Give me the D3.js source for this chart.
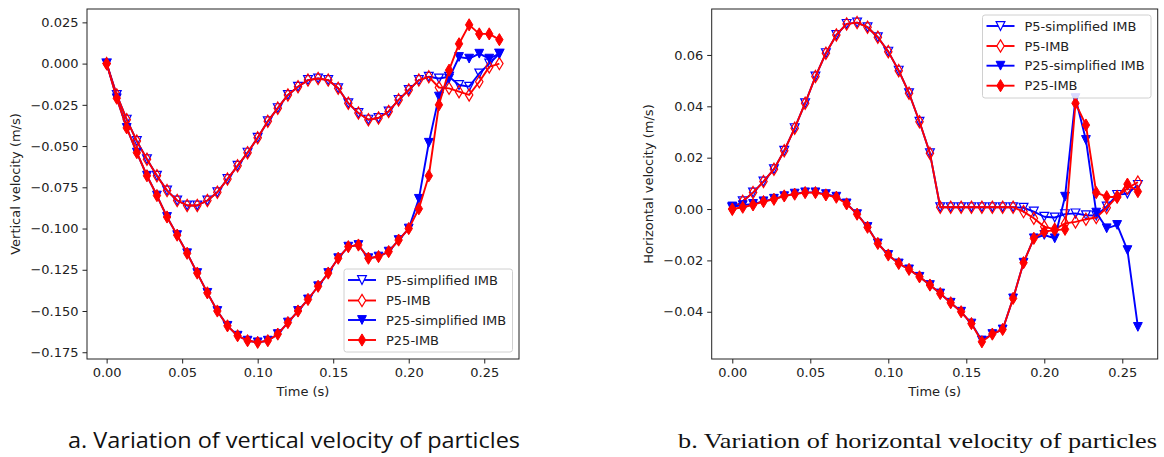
<!DOCTYPE html>
<html>
<head>
<meta charset="utf-8">
<script src="https://cdn.jsdelivr.net/npm/d3@7"></script>
<style>
  html, body { margin: 0; padding: 0; background: #fff; }
  svg { display: block; }
</style>
</head>
<body>
<svg id="chart" width="1164" height="457"></svg>
<script>
// ---------------- DATA ----------------
const times = [0.0000,0.0067,0.0133,0.0200,0.0267,0.0333,0.0400,0.0467,0.0533,0.0600,
               0.0667,0.0733,0.0800,0.0867,0.0933,0.1000,0.1067,0.1133,0.1200,0.1267,
               0.1333,0.1400,0.1467,0.1533,0.1600,0.1667,0.1733,0.1800,0.1867,0.1933,
               0.2000,0.2067,0.2133,0.2200,0.2267,0.2333,0.2400,0.2467,0.2533,0.2600];

const seriesNames = ["P5-simplified IMB", "P5-IMB", "P25-simplified IMB", "P25-IMB"];

// (a) vertical velocity (m/s)
const vertP5Simplified = [0.000,-0.019,-0.034,-0.047,-0.058,-0.068,-0.077,-0.083,-0.086,-0.086,
                          -0.083,-0.078,-0.070,-0.062,-0.054,-0.045,-0.035,-0.027,-0.019,-0.014,
                          -0.010,-0.009,-0.010,-0.015,-0.024,-0.030,-0.034,-0.033,-0.029,-0.022,
                          -0.016,-0.010,-0.008,-0.009,-0.008,-0.013,-0.014,-0.006,0.000,0.006];
const vertP5IMB        = [0.000,-0.019,-0.034,-0.047,-0.058,-0.068,-0.077,-0.083,-0.086,-0.086,
                          -0.083,-0.078,-0.070,-0.062,-0.054,-0.045,-0.035,-0.027,-0.019,-0.014,
                          -0.010,-0.009,-0.010,-0.015,-0.024,-0.030,-0.034,-0.033,-0.029,-0.022,
                          -0.016,-0.010,-0.008,-0.0145,-0.015,-0.017,-0.019,-0.011,-0.002,0.000];
const vertP25Simplified= [0.000,-0.021,-0.039,-0.054,-0.068,-0.080,-0.093,-0.104,-0.115,-0.127,
                          -0.139,-0.150,-0.159,-0.165,-0.168,-0.169,-0.168,-0.164,-0.157,-0.150,
                          -0.143,-0.135,-0.127,-0.118,-0.111,-0.110,-0.118,-0.117,-0.114,-0.107,
                          -0.100,-0.082,-0.048,-0.020,-0.009,0.004,0.003,0.006,0.003,0.006];
const vertP25IMB       = [0.000,-0.021,-0.039,-0.054,-0.068,-0.080,-0.093,-0.104,-0.115,-0.127,
                          -0.139,-0.150,-0.159,-0.165,-0.168,-0.169,-0.168,-0.164,-0.157,-0.150,
                          -0.143,-0.135,-0.127,-0.118,-0.111,-0.110,-0.118,-0.117,-0.114,-0.107,
                          -0.100,-0.088,-0.068,-0.025,-0.004,0.012,0.0235,0.018,0.018,0.0145];

// (b) horizontal velocity (m/s)
const horP5Simplified  = [0.0005,0.0030,0.0064,0.0107,0.0155,0.0227,0.0315,0.0412,0.0516,0.0607,
                          0.0678,0.0721,0.0726,0.0708,0.0669,0.0613,0.0539,0.0451,0.0340,0.0217,
                          0.0007,0.0007,0.0007,0.0007,0.0007,0.0007,0.0007,0.0007,0.0005,-0.0010,
                          -0.0030,-0.0033,-0.0020,-0.0017,-0.0024,-0.0025,0.0010,0.0055,0.0060,0.0094];
const horP5IMB         = [0.0000,0.0030,0.0064,0.0107,0.0155,0.0227,0.0315,0.0412,0.0516,0.0607,
                          0.0678,0.0721,0.0726,0.0708,0.0669,0.0613,0.0539,0.0451,0.0340,0.0217,
                          0.0007,0.0007,0.0007,0.0007,0.0007,0.0007,0.0007,0.0007,-0.0010,-0.0036,
                          -0.0069,-0.0079,-0.0056,-0.0050,-0.0040,-0.0033,0.0005,0.0048,0.0081,0.0105];
const horP25Simplified = [0.0010,0.0015,0.0020,0.0030,0.0040,0.0050,0.0060,0.0065,0.0065,0.0058,
                          0.0048,0.0022,-0.0020,-0.0070,-0.0134,-0.0179,-0.0212,-0.0235,-0.0264,-0.0296,
                          -0.0329,-0.0365,-0.0400,-0.0446,-0.0512,-0.0487,-0.0469,-0.0348,-0.0209,-0.0114,
                          -0.0101,-0.0114,0.0048,0.0432,0.0269,-0.0014,-0.0075,-0.0062,-0.0160,-0.0459];
const horP25IMB        = [0.0000,0.0007,0.0016,0.0029,0.0038,0.0051,0.0058,0.0064,0.0064,0.0055,
                          0.0046,0.0020,-0.0020,-0.0071,-0.0134,-0.0179,-0.0212,-0.0235,-0.0264,-0.0296,
                          -0.0329,-0.0365,-0.0400,-0.0446,-0.0517,-0.0487,-0.0469,-0.0348,-0.0209,-0.0114,
                          -0.0088,-0.0082,-0.0079,0.0412,0.0327,0.0064,0.0048,0.0046,0.0097,0.0068];

const xTicks = [0.00, 0.05, 0.10, 0.15, 0.20, 0.25];
const vertYTicks = [0.025, 0.000, -0.025, -0.050, -0.075, -0.100, -0.125, -0.150, -0.175];
const horYTicks = [0.06, 0.04, 0.02, 0.00, -0.02, -0.04];

const captions = ["a. Variation of vertical velocity of particles", "b. Variation of horizontal velocity of particles"];

// ---------------- STYLE ----------------
const FONT = "'DejaVu Sans', sans-serif";
const FS = 13;
const styles = [
  { color: "#0000ff", shape: "tri", filled: false },
  { color: "#ff0000", shape: "dia", filled: false },
  { color: "#0000ff", shape: "tri", filled: true },
  { color: "#ff0000", shape: "dia", filled: true }
];

function markerPath(shape) {
  if (shape === "tri") {
    const s = 4.4;
    return `M0,${s}L${-s},${-s}L${s},${-s}Z`;
  }
  const hw = 3.7, hh = 6.1;
  return `M0,${-hh}L${hw},0L0,${hh}L${-hw},0Z`;
}

const svg = d3.select("#chart");

function panel(cfg) {
  const g = svg.append("g");
  const x = d3.scaleLinear().domain(cfg.xDomain).range([cfg.left, cfg.right]);
  const y = d3.scaleLinear().domain(cfg.yDomain).range([cfg.bottom, cfg.top]);

  cfg.series.forEach((vals, si) => {
    const st = styles[si];
    const data = times.map((t, i) => ({ t, v: vals[i] }));
    const line = d3.line().x(d => x(d.t)).y(d => y(d.v));
    const sg = g.append("g");
    sg.append("path").datum(data)
      .attr("d", line).attr("fill", "none")
      .attr("stroke", st.color).attr("stroke-width", 1.9)
      .attr("stroke-linejoin", "round");
    sg.selectAll("path.m").data(data).join("path").attr("class", "m")
      .attr("d", markerPath(st.shape))
      .attr("transform", d => `translate(${x(d.t)},${y(d.v)})`)
      .attr("fill", st.filled ? st.color : "none")
      .attr("stroke", st.color).attr("stroke-width", st.filled ? 1 : 1.2);
  });

  g.append("rect").attr("x", cfg.left).attr("y", cfg.top)
    .attr("width", cfg.right - cfg.left).attr("height", cfg.bottom - cfg.top)
    .attr("fill", "none").attr("stroke", "#222").attr("stroke-width", 1);

  const xAxis = d3.axisBottom(x).tickValues(xTicks).tickFormat(d3.format(".2f"))
    .tickSize(4.5).tickPadding(4);
  const xa = g.append("g").attr("transform", `translate(0,${cfg.bottom})`).call(xAxis);
  xa.select(".domain").remove();
  xa.selectAll("line").attr("stroke", "#222");
  xa.selectAll("text").style("font-size", FS + "px").style("font-family", FONT).attr("fill", "#222");

  const yAxis = d3.axisLeft(y).tickValues(cfg.yTicks).tickFormat(d3.format(cfg.yFmt))
    .tickSize(4.5).tickPadding(4);
  const ya = g.append("g").attr("transform", `translate(${cfg.left},0)`).call(yAxis);
  ya.select(".domain").remove();
  ya.selectAll("line").attr("stroke", "#222");
  ya.selectAll("text").style("font-size", FS + "px").style("font-family", FONT).attr("fill", "#222");

  g.append("text").attr("x", (cfg.left + cfg.right) / 2).attr("y", 396)
    .attr("text-anchor", "middle").style("font-size", FS + "px").style("font-family", FONT)
    .attr("fill", "#222").text("Time (s)");
  g.append("text").attr("transform", `translate(${cfg.ylabX},${(cfg.top + cfg.bottom) / 2}) rotate(-90)`)
    .attr("text-anchor", "middle").style("font-size", FS + "px").style("font-family", FONT)
    .attr("fill", "#222").text(cfg.ylabel);

  const L = cfg.legend;
  const lg = g.append("g");
  lg.append("rect").attr("x", L.x).attr("y", L.y).attr("width", L.w).attr("height", L.h)
    .attr("rx", 2.5).attr("fill", "#fff").attr("fill-opacity", 0.85)
    .attr("stroke", "#d0d0d0").attr("stroke-width", 1);
  seriesNames.forEach((name, i) => {
    const st = styles[i];
    const cy = L.rows[i];
    lg.append("line").attr("x1", L.x + 4).attr("x2", L.x + 32).attr("y1", cy).attr("y2", cy)
      .attr("stroke", st.color).attr("stroke-width", 1.9);
    lg.append("path").attr("d", markerPath(st.shape))
      .attr("transform", `translate(${L.x + 18},${cy})`)
      .attr("fill", st.filled ? st.color : "#fff")
      .attr("stroke", st.color).attr("stroke-width", st.filled ? 1 : 1.2);
    lg.append("text").attr("x", L.x + 42).attr("y", cy + 4.7)
      .style("font-size", FS + "px").style("font-family", FONT).attr("fill", "#222").text(name);
  });
}

panel({
  left: 87, right: 519, top: 9, bottom: 359,
  xDomain: [-0.013, 0.273], yDomain: [-0.1791, 0.0331],
  yTicks: vertYTicks, yFmt: ".3f",
  ylabel: "Vertical velocity (m/s)", ylabX: 19.5,
  series: [vertP5Simplified, vertP5IMB, vertP25Simplified, vertP25IMB],
  legend: { x: 344, y: 269, w: 168.5, h: 83, rows: [280, 300.5, 320, 340] }
});

panel({
  left: 711.7, right: 1157.7, top: 9, bottom: 359,
  xDomain: [-0.0132, 0.2727], yDomain: [-0.0584, 0.0779],
  yTicks: horYTicks, yFmt: ".2f",
  ylabel: "Horizontal velocity (m/s)", ylabX: 653,
  series: [horP5Simplified, horP5IMB, horP25Simplified, horP25IMB],
  legend: { x: 982.5, y: 15, w: 168.5, h: 83, rows: [26, 46, 65.7, 85.7] }
});

svg.append("text").attr("x", 68).attr("y", 448)
  .style("font-family", "'Liberation Sans Narrow', 'Open Sans', sans-serif").style("font-size", "22px")
  .attr("fill", "#111")
  .attr("textLength", 452).attr("lengthAdjust", "spacingAndGlyphs")
  .text(captions[0]);
svg.append("text").attr("x", 678).attr("y", 448)
  .style("font-family", "'Liberation Serif', 'DejaVu Serif', serif").style("font-size", "22px")
  .attr("fill", "#111")
  .attr("textLength", 479).attr("lengthAdjust", "spacingAndGlyphs")
  .text(captions[1]);
</script>
</body>
</html>
